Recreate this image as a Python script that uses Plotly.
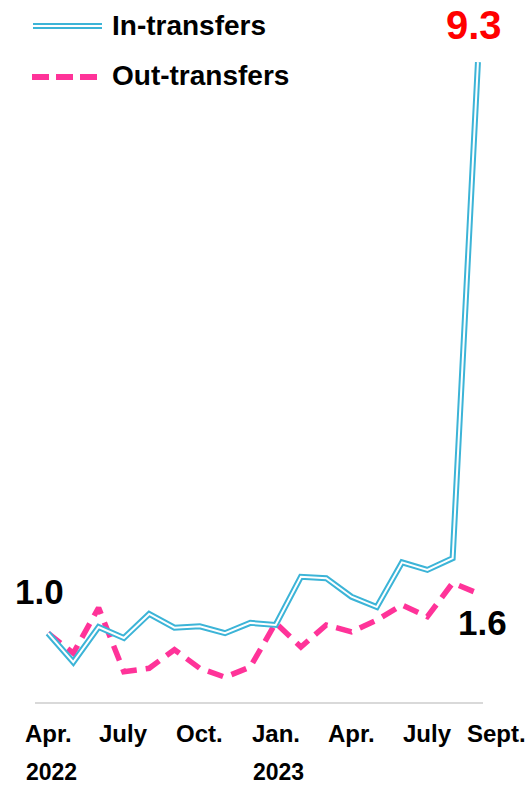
import plotly.graph_objects as go

months = ["Apr. 2022", "May 2022", "June 2022", "July 2022", "Aug. 2022", "Sept. 2022",
          "Oct. 2022", "Nov. 2022", "Dec. 2022", "Jan. 2023", "Feb. 2023", "Mar. 2023",
          "Apr. 2023", "May 2023", "June 2023", "July 2023", "Aug. 2023", "Sept. 2023"]
in_transfers = [1.00, 0.58, 1.09, 0.93, 1.28, 1.08, 1.10, 1.00, 1.15, 1.12,
                1.82, 1.80, 1.53, 1.38, 2.03, 1.92, 2.09, 9.3]
out_transfers = [1.00, 0.71, 1.37, 0.44, 0.49, 0.76, 0.49, 0.36, 0.51, 1.15,
                 0.80, 1.12, 1.02, 1.19, 1.41, 1.24, 1.73, 1.58]
tick_idx = [0, 3, 6, 9, 12, 15, 17]
tick_line1 = ["Apr.", "July", "Oct.", "Jan.", "Apr.", "July", "Sept."]
tick_line2 = ["2022", "", "", "2023", "", "", ""]

BLUE = "#3cb4d7"
PINK = "#ff3399"
FONT = "Arial, Liberation Sans, sans-serif"

x = list(range(len(months)))

fig = go.Figure()
fig.add_trace(go.Scatter(x=x, y=out_transfers, mode="lines", name="Out-transfers",
                         line=dict(color=PINK, width=5.5, dash="16px,9px"),
                         showlegend=False, cliponaxis=False))
fig.add_trace(go.Scatter(x=x, y=in_transfers, mode="lines", name="In-transfers",
                         line=dict(color=BLUE, width=6), showlegend=False, cliponaxis=False))
fig.add_trace(go.Scatter(x=x, y=in_transfers, mode="lines", name="In-transfers inner",
                         line=dict(color="white", width=2), showlegend=False, cliponaxis=False,
                         hoverinfo="skip"))

annotations = []
for i, t1, t2 in zip(tick_idx, tick_line1, tick_line2):
    shift = 19 if t1 == "Sept." else 0
    annotations.append(dict(x=i, y=0, xref="x", yref="y", text=f"<b>{t1}</b>", showarrow=False,
                            xanchor="center", yanchor="middle", xshift=shift, yshift=-31,
                            font=dict(family=FONT, size=24, color="black")))
    if t2:
        annotations.append(dict(x=i, y=0, xref="x", yref="y", text=f"<b>{t2}</b>", showarrow=False,
                                xanchor="center", yanchor="middle", xshift=3, yshift=-70,
                                font=dict(family=FONT, size=23, color="black")))

annotations.append(dict(x=0, y=in_transfers[0], xref="x", yref="y", text=f"<b>{in_transfers[0]:.1f}</b>",
                        showarrow=False, xanchor="center", yanchor="middle", xshift=-9, yshift=42,
                        font=dict(family=FONT, size=35, color="black")))
annotations.append(dict(x=17, y=in_transfers[-1], xref="x", yref="y", text=f"<b>{in_transfers[-1]:.1f}</b>",
                        showarrow=False, xanchor="center", yanchor="middle", xshift=-4, yshift=37,
                        font=dict(family=FONT, size=40, color="#ff0000")))
annotations.append(dict(x=17, y=out_transfers[-1], xref="x", yref="y", text=f"<b>{out_transfers[-1]:.1f}</b>",
                        showarrow=False, xanchor="center", yanchor="middle", xshift=5, yshift=-29,
                        font=dict(family=FONT, size=35, color="black")))

# legend text
annotations.append(dict(x=110, y=26, xref="paper", yref="paper", text="<b>In-transfers</b>", showarrow=False,
                        xanchor="left", yanchor="middle", font=dict(family=FONT, size=28, color="black")))
annotations.append(dict(x=110, y=76, xref="paper", yref="paper", text="<b>Out-transfers</b>", showarrow=False,
                        xanchor="left", yanchor="middle", font=dict(family=FONT, size=28, color="black")))

W, H = 531, 787
ML, MR, MT, MB = 35, 48, 0, 85
pw, ph = W - ML - MR, H - MT - MB

def px(xp):
    return (xp - ML) / pw

def py(yp):
    return 1 - (yp - MT) / ph

for a in annotations:
    if a["xref"] == "paper":
        a["x"] = px(a["x"])
        a["y"] = py(a["y"])

shapes = [
    dict(type="line", xref="paper", yref="paper", x0=px(33), x1=px(102), y0=py(26), y1=py(26),
         line=dict(color=BLUE, width=6)),
    dict(type="line", xref="paper", yref="paper", x0=px(33), x1=px(102), y0=py(26), y1=py(26),
         line=dict(color="white", width=2)),
    dict(type="line", xref="paper", yref="paper", x0=px(32), x1=px(97), y0=py(77), y1=py(77),
         line=dict(color=PINK, width=6, dash="17px,7px")),
]

fig.update_layout(
    width=W, height=H,
    margin=dict(l=ML, r=MR, t=MT, b=MB),
    paper_bgcolor="white", plot_bgcolor="white",
    showlegend=False,
    hovermode=False,
    xaxis=dict(range=[-0.514, 17.2], showgrid=False, zeroline=False, showticklabels=False,
               showline=True, linecolor="#d9d9d9", linewidth=2, ticks=""),
    yaxis=dict(range=[0, ph / 68.8], showgrid=False, zeroline=False, showticklabels=False,
               showline=False),
    annotations=annotations,
    shapes=shapes,
)

fig.write_html("out.html", config={"displayModeBar": False},
               post_script="document.body.style.margin='0';document.body.style.overflow='hidden';")
